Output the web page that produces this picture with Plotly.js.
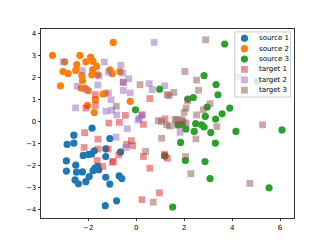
<!DOCTYPE html>
<html><head><meta charset="utf-8">
<script src="https://cdn.plot.ly/plotly-3.0.1.min.js"></script>
<style>html,body{margin:0;padding:0;background:#fff}#chart{width:327px;height:245px}</style>
</head><body><div id="chart"></div>
<script>
// source 1
const s1x = [-1.84,-2.60,-2.88,-2.60,-1.10,-0.65,-1.27,-2.21,-2.00,-1.86,-1.75,-1.27,-2.91,-2.52,-2.91,-2.49,-2.24,-1.72,-1.61,-1.80,-1.56,-1.96,-2.55,-2.41,-2.10,-1.27,-1.10,-0.71,-0.60,-0.82,-1.29];
const s1y = [-0.31,-0.63,-1.05,-0.99,-0.78,-1.39,-1.25,-1.55,-1.51,-1.48,-1.34,-1.60,-1.80,-1.99,-2.26,-2.31,-2.30,-2.13,-2.05,-2.24,-2.20,-2.51,-2.66,-2.84,-2.74,-2.54,-2.85,-2.48,-2.60,-3.61,-3.83];
// source 2
const s2x = [-3.49,-0.96,-2.35,-1.90,-2.98,-2.48,-2.10,-1.80,-1.65,-3.05,-2.84,-2.52,-1.82,-1.85,-1.61,-1.10,-1.00,-0.68,-2.27,-2.24,-3.16,-2.30,-2.14,-2.00,-1.29,-1.38,-1.70,-2.03,-0.25,-1.75];
const s2y = [2.99,3.58,2.99,2.92,2.70,2.57,2.70,2.72,2.49,2.26,2.16,2.31,2.34,2.11,2.11,2.34,2.16,2.26,2.07,1.85,1.61,1.51,1.51,1.39,1.26,1.24,0.98,0.72,0.90,0.40];
// source 3
const s3x = [3.69,2.83,3.33,3.41,0.98,2.38,2.15,3.90,3.58,3.31,2.96,2.88,-0.03,1.75,1.90,2.48,2.73,2.83,2.07,2.42,3.11,4.16,6.08,1.85,3.30,2.05,2.87,3.08,5.54,1.52,1.20,5.05];
const s3y = [3.51,2.07,1.67,1.20,1.46,1.08,1.01,0.60,0.34,0.10,0.65,0.22,0.52,-0.16,-0.16,-0.11,-0.16,-0.26,-0.35,-0.46,-0.51,-0.46,-0.39,-0.96,-0.99,-1.78,-1.83,-2.60,-3.02,-3.89,-1.57,1.81];
// target 1
const t1x = [-1.70,-2.10,-1.70,-0.54,0.57,-1.14,-0.70,-0.45,0.24,0.30,1.20,-2.15,-1.59,-2.17,-1.59,-1.17,-0.20,-0.15,-0.40,-0.73,-1.63,-1.00,-0.95,-1.40,0.30,0.57,0.24,0.97,1.18,1.30];
const t1y = [1.21,0.60,0.72,1.78,1.03,-0.08,-0.05,0.27,0.30,-0.14,0.11,-0.52,-0.81,-1.19,-1.26,-1.26,-0.88,-1.11,-1.05,-1.52,-1.78,-1.86,-1.82,-2.05,-1.60,-2.13,-3.56,-3.25,-1.50,-1.68];
// target 2
const t2x = [-3.04,0.75,-1.33,-0.64,-2.24,-1.16,-0.57,-0.31,-1.55,-2.46,-0.54,-1.60,-2.08,-1.16,-0.54,-0.25,-1.05,-2.53,-1.26,-1.02,-0.81,0.54,0.67,1.18,0.13,0.24,-0.84,-0.37,-0.43,0.08,1.83];
const t2y = [2.70,3.58,2.69,2.55,2.30,2.23,2.19,1.93,2.06,1.59,1.76,1.65,1.43,1.29,1.40,1.29,0.98,0.61,0.46,0.50,0.29,1.71,1.44,1.61,0.14,0.27,-0.72,-0.34,-1.19,0.05,-0.50];
// target 3
const t3x = [2.90,2.03,2.52,2.60,1.57,1.37,4.26,3.08,2.15,2.08,2.80,2.52,2.00,1.90,1.69,0.92,1.05,5.27,1.29,0.16,-0.83,1.27,1.62,1.69,1.96,2.08,3.36,1.06,2.49,1.18,2.06,2.28,4.74,0.71,0.39,1.40];
const t3y = [3.70,2.26,1.87,1.41,1.31,1.17,2.01,0.80,0.93,0.60,0.52,0.29,0.40,0.08,0.08,0.03,-0.01,-0.16,1.21,1.66,0.68,-0.16,0.07,-0.18,-0.01,-0.08,-0.24,-0.77,-0.80,-1.57,-1.60,-2.38,-2.82,-3.67,-1.37,-0.22];

const names = ['source 1','source 2','source 3','target 1','target 2','target 3'];
const colors = ['#1f77b4','#ff7f0e','#2ca02c','#d62728','#9467bd','#8c564b'];
const xs = [s1x,s2x,s3x,t1x,t2x,t3x];
const ys = [s1y,s2y,s3y,t1y,t2y,t3y];

const traces = xs.map((x,i)=>({
  type:'scatter', mode:'markers', x:x, y:ys[i], name:names[i],
  marker:{color:colors[i], size: i<3?7.2:6.8, symbol: i<3?'circle':'square',
          opacity: i<3?1:0.5, line:{width:0}},
  showlegend:false, hoverinfo:'skip'
}));

// pixel -> paper helpers for the hand-built legend
const L=40.875, R=294.3, T=29.4, B=218.05;
const px=p=>(p-L)/(R-L), py=p=>(B-p)/(B-T);
const shapes=[{type:'rect',xref:'paper',yref:'paper',x0:px(235),x1:px(290.7),y0:py(32.3),y1:py(97.3),
  fillcolor:'rgba(255,255,255,0.8)',line:{color:'#cccccc',width:1},layer:'above'}];
const annotations=[];
names.forEach((n,i)=>{
  const cy=38.7+i*10.35;
  if(i<3){
    shapes.push({type:'circle',xref:'paper',yref:'paper',xsizemode:'pixel',ysizemode:'pixel',
      xanchor:px(244.7),yanchor:py(cy),x0:-3.6,x1:3.6,y0:-3.6,y1:3.6,
      fillcolor:colors[i],line:{width:0},layer:'above'});
  } else {
    shapes.push({type:'rect',xref:'paper',yref:'paper',xsizemode:'pixel',ysizemode:'pixel',
      xanchor:px(244.7),yanchor:py(cy),x0:-3.4,x1:3.4,y0:-3.4,y1:3.4,
      fillcolor:colors[i],opacity:0.5,line:{width:0},layer:'above'});
  }
  annotations.push({xref:'paper',yref:'paper',x:px(257),y:py(cy),text:n,showarrow:false,
    xanchor:'left',yanchor:'middle',font:{family:'DejaVu Sans',size:7,color:'#000'}});
});

const axisCommon={showgrid:false,zeroline:false,showline:true,mirror:true,linecolor:'#000',linewidth:0.8,
  ticks:'outside',ticklen:2.5,tickwidth:0.8,tickcolor:'#000',tickfont:{family:'DejaVu Sans',size:7,color:'#000'}};
const layout={
  width:327,height:245,margin:{l:L,r:327-R,t:T,b:245-B,pad:0},
  paper_bgcolor:'#fff',plot_bgcolor:'#fff',showlegend:false,
  xaxis:Object.assign({range:[-3.97,6.58],tickvals:[-4,-2,0,2,4,6]},axisCommon),
  yaxis:Object.assign({range:[-4.39,4.19],tickvals:[-4,-3,-2,-1,0,1,2,3,4]},axisCommon),
  shapes:shapes,annotations:annotations
};
Plotly.newPlot('chart',traces,layout,{staticPlot:true,displayModeBar:false});
</script></body></html>
